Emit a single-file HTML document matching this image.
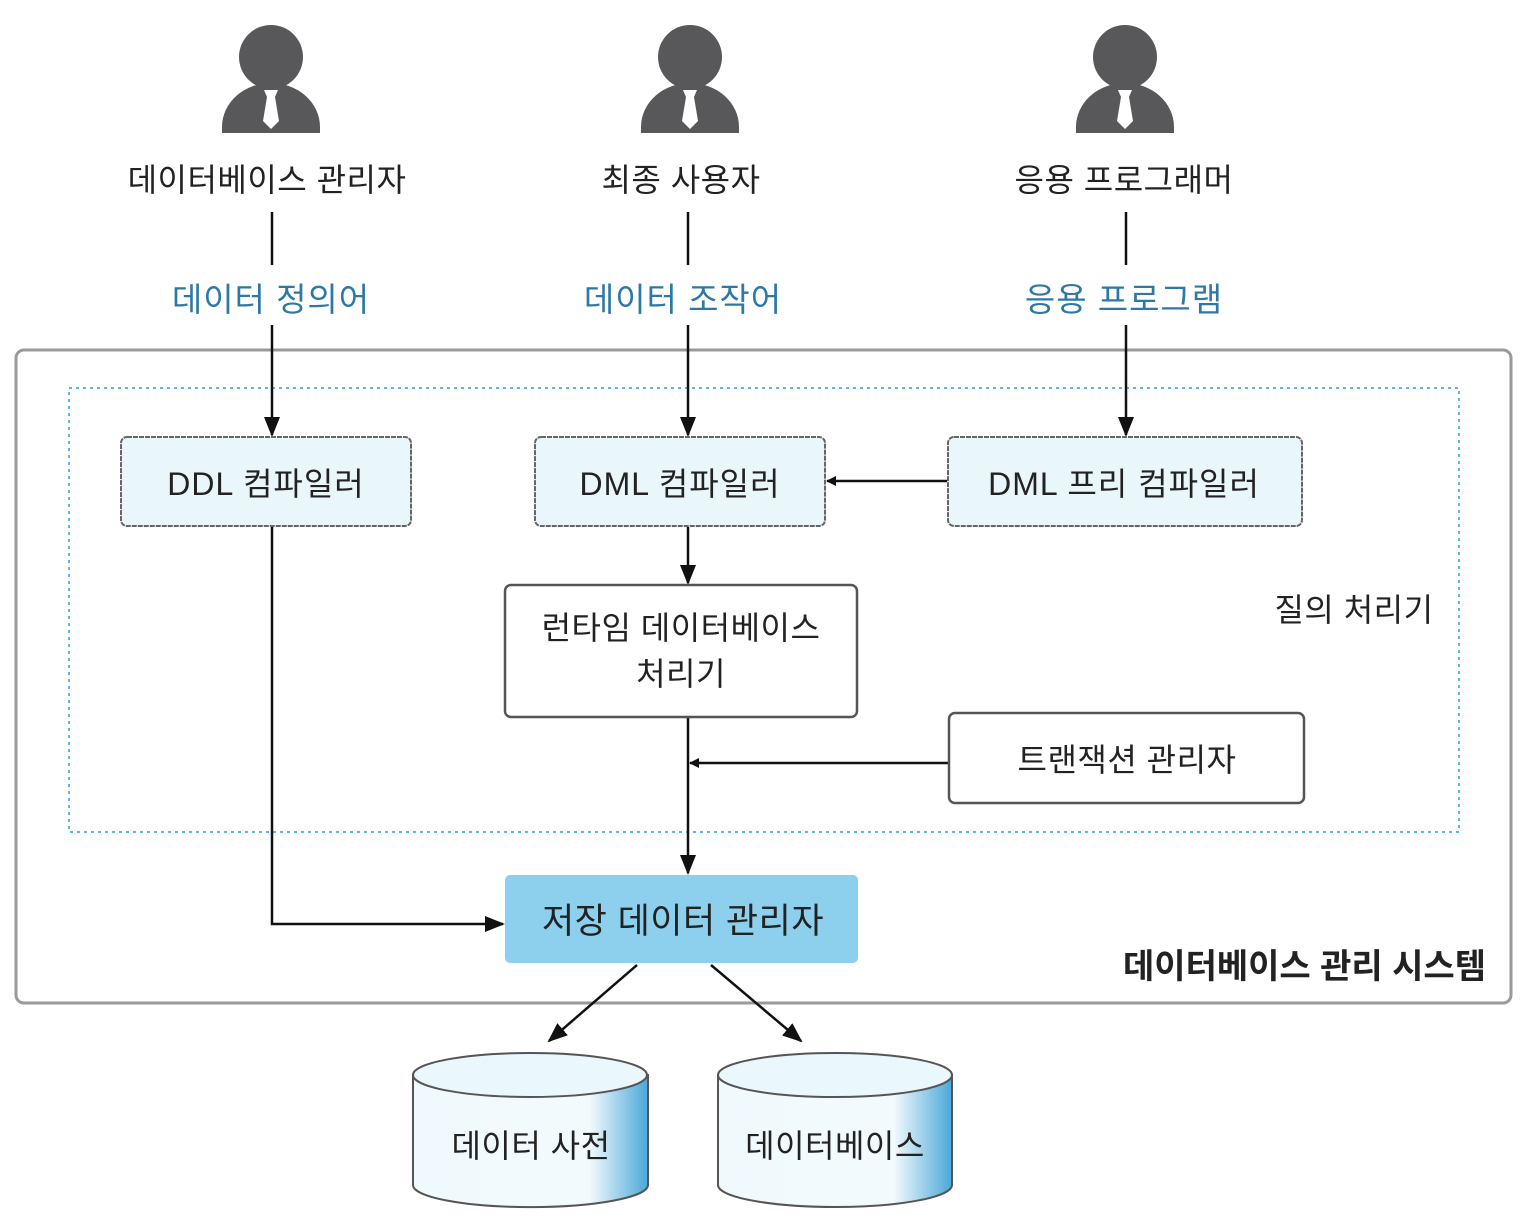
<!DOCTYPE html>
<html><head><meta charset="utf-8"><style>
html,body{margin:0;padding:0;background:#fff}
svg{display:block}
text{font-family:"Liberation Sans","Noto Sans CJK KR",sans-serif;fill:#222}
.b{fill:#2e78a6}
</style></head><body>
<svg width="1523" height="1223" viewBox="0 0 1523 1223" xmlns="http://www.w3.org/2000/svg">
<defs>
<marker id="a" markerWidth="10" markerHeight="10" refX="9" refY="5" orient="auto" markerUnits="userSpaceOnUse" viewBox="0 0 10 10"><path d="M0,0 L10,5 L0,10 z" fill="#111"/></marker>
<marker id="as" markerWidth="20" markerHeight="20" refX="18" refY="10" orient="auto" markerUnits="userSpaceOnUse" viewBox="0 0 20 20"><path d="M0,2 L20,10 L0,18 z" fill="#111"/></marker>
<linearGradient id="cg" x1="0" x2="1" y1="0" y2="0">
<stop offset="0" stop-color="#f0f9fd"/><stop offset="0.75" stop-color="#f3fafd"/><stop offset="1" stop-color="#4aa8d8"/></linearGradient>
<g id="p"><circle cx="0" cy="0" r="32" fill="#58585a"/><path d="M-49,76 L-49,70 A49,44 0 0 1 49,70 L49,76 Z" fill="#58585a"/><path d="M-7,33 L7,33 L4,40 L8,64 L0,72 L-8,64 L-4,40 Z" fill="#fff"/></g>
</defs>
<use href="#p" x="271" y="57"/>
<use href="#p" x="690" y="57"/>
<use href="#p" x="1125" y="57"/>
<text x="267" y="191" font-size="32" letter-spacing="0.5" text-anchor="middle">데이터베이스 관리자</text>
<text x="681" y="191" font-size="32" letter-spacing="0.5" text-anchor="middle">최종 사용자</text>
<text x="1124" y="191" font-size="32" letter-spacing="0.5" text-anchor="middle">응용 프로그래머</text>
<text x="271" y="311" font-size="33" letter-spacing="1" text-anchor="middle" class="b">데이터 정의어</text>
<text x="683" y="311" font-size="33" letter-spacing="1" text-anchor="middle" class="b">데이터 조작어</text>
<text x="1124" y="311" font-size="33" letter-spacing="1" text-anchor="middle" class="b">응용 프로그램</text>
<g stroke="#111" stroke-width="2.5" fill="none">
<line x1="272" y1="212" x2="272" y2="265"/>
<line x1="688" y1="212" x2="688" y2="265"/>
<line x1="1126" y1="212" x2="1126" y2="265"/>
</g>
<rect x="16" y="350" width="1495" height="653" rx="8" fill="none" stroke="#9a9a9a" stroke-width="3"/>
<rect x="69" y="388" width="1390" height="444" fill="none" stroke="#5cb8e2" stroke-width="2" stroke-dasharray="3,4"/>
<g stroke="#111" stroke-width="2.5" fill="none">
<line x1="272" y1="325" x2="272" y2="435" marker-end="url(#as)"/>
<line x1="688" y1="325" x2="688" y2="435" marker-end="url(#as)"/>
<line x1="1126" y1="325" x2="1126" y2="435" marker-end="url(#as)"/>
<line x1="947" y1="481" x2="827" y2="481" marker-end="url(#a)"/>
<line x1="688" y1="527" x2="688" y2="583" marker-end="url(#as)"/>
<line x1="688" y1="718" x2="688" y2="873" marker-end="url(#as)"/>
<line x1="948" y1="763" x2="690" y2="763" marker-end="url(#a)"/>
<polyline points="272,527 272,924 503,924" marker-end="url(#as)"/>
<line x1="637" y1="965" x2="549" y2="1041" marker-end="url(#as)"/>
<line x1="711" y1="965" x2="801" y2="1041" marker-end="url(#as)"/>
</g>
<g stroke="#666" stroke-width="2" stroke-dasharray="5,1">
<rect x="121" y="437" width="290" height="89" rx="6" fill="#e9f6fa"/>
<rect x="535" y="437" width="290" height="89" rx="6" fill="#e9f6fa"/>
<rect x="948" y="437" width="354" height="89" rx="6" fill="#e9f6fa"/>
</g>
<g stroke="#555" stroke-width="2.5">
<rect x="505" y="585" width="352" height="132" rx="6" fill="#fff"/>
<rect x="949" y="713" width="355" height="90" rx="6" fill="#fff"/>
</g>
<rect x="505" y="875" width="353" height="88" rx="5" fill="#8dd0ee"/>
<text x="266" y="495" font-size="32" letter-spacing="1" text-anchor="middle">DDL 컴파일러</text>
<text x="680" y="495" font-size="32" letter-spacing="1" text-anchor="middle">DML 컴파일러</text>
<text x="1124" y="495" font-size="32" letter-spacing="1" text-anchor="middle">DML 프리 컴파일러</text>
<text x="681" y="639" font-size="32" letter-spacing="0.5" text-anchor="middle">런타임 데이터베이스</text>
<text x="681" y="685" font-size="32" letter-spacing="0.5" text-anchor="middle">처리기</text>
<text x="1127" y="771" font-size="32" letter-spacing="0.5" text-anchor="middle">트랜잭션 관리자</text>
<text x="1354" y="621" font-size="32" letter-spacing="0.5" text-anchor="middle">질의 처리기</text>
<text x="683" y="933" font-size="35" letter-spacing="0.5" text-anchor="middle">저장 데이터 관리자</text>
<text x="1486" y="978" font-size="34" text-anchor="end" font-weight="bold">데이터베이스 관리 시스템</text>
<g stroke="#555" stroke-width="2">
<path d="M413,1075 L413,1185 A117,22 0 0 0 648,1185 L648,1075 Z" fill="url(#cg)"/>
<ellipse cx="530" cy="1075" rx="117" ry="22" fill="#eaf7fc"/>
<path d="M718,1075 L718,1185 A117,22 0 0 0 952,1185 L952,1075 Z" fill="url(#cg)"/>
<ellipse cx="835" cy="1075" rx="117" ry="22" fill="#eaf7fc"/>
</g>
<text x="531" y="1157" font-size="32" letter-spacing="0.5" text-anchor="middle">데이터 사전</text>
<text x="835" y="1157" font-size="32" letter-spacing="0.5" text-anchor="middle">데이터베이스</text>
</svg>
</body></html>
